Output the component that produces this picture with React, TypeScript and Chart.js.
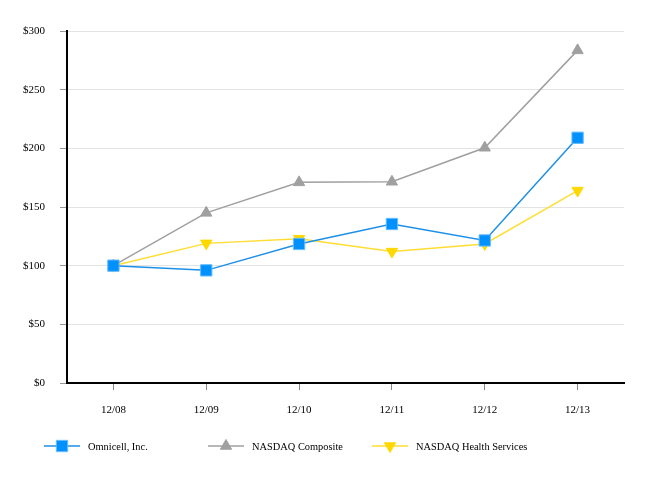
import React, { useEffect, useRef } from "react";
import { Chart, registerables } from "chart.js";
import * as helpers from "chart.js/helpers";

Chart.register(...registerables);

const categories = ["12/08", "12/09", "12/10", "12/11", "12/12", "12/13"];
const omnicell = [100, 96, 118.5, 135.5, 121.5, 209];
const nasdaqComposite = [100, 145, 171, 171.5, 200.5, 283.5];
const nasdaqHealth = [100, 119, 123, 112, 118.5, 164];
const yTicks = [0, 50, 100, 150, 200, 250, 300];

const FONT = "'Liberation Serif', 'Times New Roman', serif";

const legendPlugin = {
  id: "customLegend",
  afterDraw(chart: any) {
    const ctx = chart.ctx;
    ctx.save();
    chart.data.datasets.forEach((ds: any, i: number) => {
      const x0 = 44 + i * 164;
      const y = 446;
      ctx.strokeStyle = ds.borderColor;
      ctx.lineWidth = 1.5;
      ctx.beginPath();
      ctx.moveTo(x0, y);
      ctx.lineTo(x0 + 36, y);
      ctx.stroke();
      ctx.fillStyle = ds.pointBackgroundColor;
      ctx.strokeStyle = ds.pointBorderColor;
      ctx.lineWidth = 1;
      (helpers as any).drawPoint(
        ctx,
        { pointStyle: ds.pointStyle, rotation: ds.pointRotation || 0, radius: ds.pointRadius, borderWidth: 1 },
        x0 + 18,
        y
      );
      ctx.fillStyle = "#000";
      ctx.font = `10.4px ${FONT}`;
      ctx.textAlign = "left";
      ctx.textBaseline = "middle";
      ctx.fillText(ds.label, x0 + 44, y + 1);
    });
    ctx.restore();
  },
};

export default function App() {
  const ref = useRef<HTMLCanvasElement>(null);
  useEffect(() => {
    if (!ref.current) return;
    const chart = new Chart(ref.current, {
      type: "line",
      data: {
        labels: categories,
        datasets: [
          {
            label: "Omnicell, Inc.",
            data: omnicell,
            borderColor: "#1E8FE6",
            borderWidth: 1.5,
            pointStyle: "rect",
            pointRadius: 8,
            pointBackgroundColor: "#0091FF",
            pointBorderColor: "#66BBFF",
            pointBorderWidth: 1,
            tension: 0,
          },
          {
            label: "NASDAQ Composite",
            data: nasdaqComposite,
            borderColor: "#A0A0A0",
            borderWidth: 1.5,
            pointStyle: "triangle",
            pointRadius: 6.5,
            pointBackgroundColor: "#A0A0A0",
            pointBorderColor: "#A0A0A0",
            pointBorderWidth: 1,
            tension: 0,
          },
          {
            label: "NASDAQ Health Services",
            data: nasdaqHealth,
            borderColor: "#FFDD33",
            borderWidth: 1.5,
            pointStyle: "triangle",
            pointRotation: 180,
            pointRadius: 6.5,
            pointBackgroundColor: "#FFD800",
            pointBorderColor: "#FFD800",
            pointBorderWidth: 1,
            tension: 0,
          } as any,
        ],
      },
      options: {
        animation: false,
        responsive: true,
        maintainAspectRatio: false,
        layout: { padding: { left: 0, right: 30, top: 31, bottom: 0 } },
        plugins: { legend: { display: false }, tooltip: { enabled: false } },
        scales: {
          x: {
            offset: true,
            grid: { drawOnChartArea: false, drawTicks: true, tickLength: 7, color: "#888", offset: false } as any,
            border: { color: "#000", width: 2 },
            ticks: { color: "#000", font: { family: FONT, size: 11 }, padding: 14, maxRotation: 0 },
            afterFit(scale: any) {
              scale.height = 97;
            },
          },
          y: {
            min: 0,
            max: 300,
            afterBuildTicks(scale: any) {
              scale.ticks = yTicks.map((v) => ({ value: v }));
            },
            grid: { color: "#E3E3E3", tickLength: 7, tickColor: "#999" } as any,
            border: { color: "#000", width: 2 },
            ticks: {
              color: "#000",
              font: { family: FONT, size: 11 },
              padding: 15,
              callback: (v: any) => "$" + v,
            },
            afterFit(scale: any) {
              scale.width = 67;
            },
          },
        },
      },
      plugins: [legendPlugin],
    });
    return () => chart.destroy();
  }, []);
  return (
    <div style={{ position: "fixed", left: 0, top: 0, width: 654, height: 480, background: "#fff" }}>
      <canvas ref={ref} />
    </div>
  );
}
